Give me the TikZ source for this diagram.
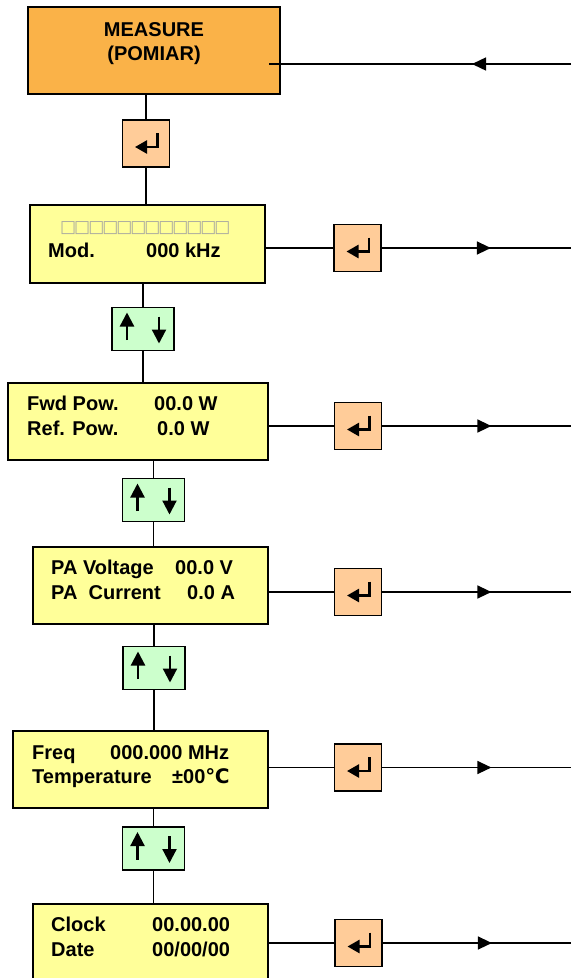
\documentclass[tikz,border=0pt]{standalone}
\usepackage{fontspec}
\setmainfont{Liberation Sans}
\newfontfamily\symfont{DejaVu Sans}
\newfontfamily\tofufont[LetterSpace=-12]{DejaVu Sans}
\usetikzlibrary{arrows.meta, decorations.markings}
\definecolor{measurebg}{RGB}{250, 178, 72}
\definecolor{keybg}{RGB}{255, 204, 153}
\definecolor{navbg}{RGB}{204, 255, 204}
\definecolor{lcdbg}{RGB}{255, 255, 153}
\definecolor{tofu}{RGB}{170, 170, 160}

\tikzset{
  headbox/.style={draw, fill=measurebg, line width=1.8pt, inner sep=0pt},
  lcd/.style={draw, fill=lcdbg, line width=1.8pt, inner sep=0pt},
  keybox/.style={draw, fill=keybg, line width=1.8pt, minimum size=47pt, inner sep=0pt},
  navbox/.style={draw, fill=navbg, line width=1.8pt, minimum width=62pt,
                 minimum height=43pt, inner sep=0pt},
  lcdtxt/.style={font=\fontsize{20}{24}\selectfont\bfseries, anchor=base west, inner sep=0pt},
  headtxt/.style={font=\fontsize{20}{24}\selectfont\bfseries, anchor=base, inner sep=0pt},
  link/.style={line width=1.4pt},
  midarrow/.style={postaction={decorate}, decoration={markings,
      mark=at position #1 with {\arrow{Triangle[length=14pt, width=13pt]}}}},
}

\begin{document}
\begin{tikzpicture}[x=1pt, y=-1pt]
  \useasboundingbox (0,0) rectangle (571,978);

  % menu head
  \node[headbox, minimum width=252pt, minimum height=87pt] (measure) at (154,50.5) {};
  \node[headtxt] (measureA) at (154,36) {MEASURE};
  \node[headtxt] (measureB) at (154,60.4) {(POMIAR)};
  \coordinate (inM) at (571,64);
  \draw[link, midarrow=99pt] (inM) -- ([xshift=-12pt]measure.east |- inM);

  % display screens
  \node[lcd, minimum width=235pt, minimum height=78pt] (mod) at (147.5,244) {};
  \node[lcd, minimum width=260pt, minimum height=77pt] (fwd) at (138,421.5) {};
  \node[lcd, minimum width=235pt, minimum height=77pt] (pa) at (150.5,585.5) {};
  \node[lcd, minimum width=255pt, minimum height=77pt] (freq) at (140.5,769.5) {};
  \node[lcd, minimum width=235pt, minimum height=77pt] (clock) at (150.5,942.5) {};

  % screen texts
  \node[lcdtxt, text=tofu, font=\fontsize{17}{20}\selectfont\tofufont] (modT) at (60,232)
    {□□□□□□□□□□□□};
  \node[lcdtxt] (modA) at (48,257.7) {Mod.};
  \node[lcdtxt] (modV) at (146,257.7) {000 kHz};
  \node[lcdtxt] (fwdA) at (27,410.7) {Fwd Pow.};
  \node[lcdtxt] (fwdV) at (154,410.7) {00.0 W};
  \node[lcdtxt] (refA) at (27,435) {Ref. Pow.};
  \node[lcdtxt] (refV) at (157,435) {0.0 W};
  \node[lcdtxt] (paA) at (51,574) {PA Voltage};
  \node[lcdtxt] (paV) at (175,574) {00.0 V};
  \node[lcdtxt] (curA) at (51,599.3) {PA\ \ Current};
  \node[lcdtxt] (curV) at (187,599.3) {0.0 A};
  \node[lcdtxt] (freqA) at (32,759.3) {Freq};
  \node[lcdtxt] (freqV) at (110,759.3) {000.000 MHz};
  \node[lcdtxt] (tempA) at (32,783.3) {Temperature};
  \node[lcdtxt] (tempV) at (172,783.3) {±00{\symfont\bfseries ℃}};
  \node[lcdtxt] (clockA) at (51,931.7) {Clock};
  \node[lcdtxt] (clockV) at (152,931.7) {00.00.00};
  \node[lcdtxt] (dateA) at (51,956.7) {Date};
  \node[lcdtxt] (dateV) at (152,956.7) {00/00/00};

  % enter keys
  \node[keybox] (k0) at (146,143.5) {};
  \node[keybox] (k1) at (357.5,248) {};
  \node[keybox] (k2) at (358,426) {};
  \node[keybox] (k3) at (358,592) {};
  \node[keybox] (k4) at (358,767.5) {};
  \node[keybox] (k5) at (358.5,943) {};
  \foreach \k in {k0,k1,k2,k3,k4,k5}
    \draw[line width=2.4pt, -{Triangle[length=12pt, width=13pt]}]
      ([shift={(11.5,-10.5)}]\k.center) -- ([shift={(11.5,3.5)}]\k.center)
      -- ([shift={(-11,3.5)}]\k.center);

  % up/down keys
  \node[navbox] (ud1) at (143,329) {};
  \node[navbox] (ud2) at (153.5,500) {};
  \node[navbox] (ud3) at (154,668) {};
  \node[navbox] (ud4) at (153.5,848.5) {};
  \foreach \u in {ud1,ud2,ud3,ud4} {
    \draw[line width=2.2pt, -{Triangle[length=14pt, width=14pt]}]
      ([shift={(-16,11)}]\u.center) -- ([shift={(-16,-16.5)}]\u.center);
    \draw[line width=2.2pt, -{Triangle[length=14pt, width=14pt]}]
      ([shift={(16,-12.5)}]\u.center) -- ([shift={(16,14.5)}]\u.center);
  }

  % vertical chain
  \draw[link] (measure.south -| k0) -- (k0.north);
  \draw[link] (k0.south) -- (mod.north -| k0);
  \draw[link] (mod.south -| ud1) -- (ud1.north);
  \draw[link] (ud1.south) -- (fwd.north -| ud1);
  \draw[link] (fwd.south -| ud2) -- (ud2.north);
  \draw[link] (ud2.south) -- (pa.north -| ud2);
  \draw[link] (pa.south -| ud3) -- (ud3.north);
  \draw[link] (ud3.south) -- (freq.north -| ud3);
  \draw[link] (freq.south -| ud4) -- (ud4.north);
  \draw[link] (ud4.south) -- (clock.north -| ud4);

  % outgoing branches
  \coordinate (o1) at (571,248);
  \coordinate (o2) at (571,426);
  \coordinate (o3) at (571,592);
  \coordinate (o4) at (571,767.5);
  \coordinate (o5) at (571,943);
  \foreach \b/\k/\o in {mod/k1/o1, fwd/k2/o2, pa/k3/o3, freq/k4/o4, clock/k5/o5} {
    \draw[link] (\b.east |- \k) -- (\k.west);
    \draw[link, midarrow=109pt] (\k.east) -- (\o);
  }
\end{tikzpicture}
\end{document}
